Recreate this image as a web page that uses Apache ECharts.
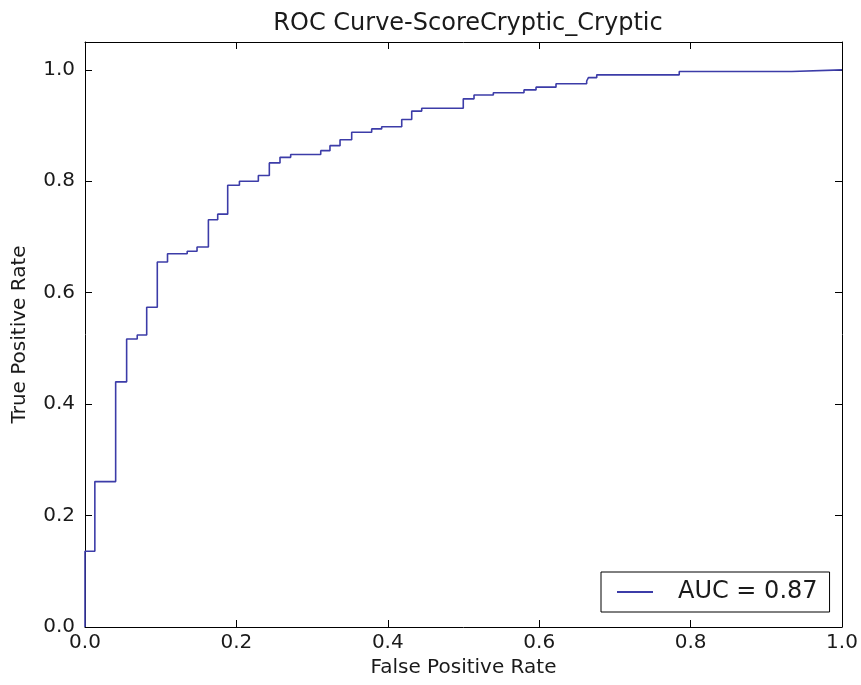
<!DOCTYPE html>
<html>
<head>
<meta charset="utf-8">
<script src="https://cdn.jsdelivr.net/npm/echarts@6/dist/echarts.min.js"></script>
<style>
  html, body { margin: 0; padding: 0; background: #fff; }
  #chart { width: 861px; height: 685px; }
</style>
</head>
<body>
<div id="chart"></div>
<script>
// ROC points (corners at the top of each vertical step)
const fpr = [0, 0, 0.013, 0.0405, 0.055, 0.069, 0.0815, 0.0955, 0.109, 0.135, 0.148, 0.163, 0.1753, 0.1885, 0.204, 0.229, 0.2435, 0.2576, 0.2717, 0.3114, 0.3236, 0.3369, 0.3523, 0.3787, 0.3919, 0.4184, 0.4316, 0.4448, 0.4997, 0.5139, 0.5394, 0.5799, 0.5958, 0.6222, 0.6627, 0.665, 0.676, 0.785, 0.9335, 1.0];
const tpr = [0, 0.136, 0.261, 0.44, 0.517, 0.524, 0.574, 0.655, 0.670, 0.6745, 0.682, 0.731, 0.741, 0.793, 0.80, 0.8105, 0.833, 0.843, 0.848, 0.855, 0.864, 0.8745, 0.888, 0.894, 0.898, 0.911, 0.926, 0.931, 0.948, 0.955, 0.959, 0.964, 0.969, 0.975, 0.980, 0.986, 0.991, 0.997, 1.0, 1.0];
const seriesName = 'AUC = 0.87';
const titleText = 'ROC Curve-ScoreCryptic_Cryptic';
const xName = 'False Positive Rate';
const yName = 'True Positive Rate';
const tickValues = [0, 0.2, 0.4, 0.6, 0.8, 1.0];

const points = fpr.map((x, i) => [x, tpr[i]]);
const FONT = 'DejaVu Sans';
const TXT = '#1a1a1a';

function fmt(v) {
  const ok = tickValues.some(t => Math.abs(t - v) < 1e-9);
  return ok ? v.toFixed(1) : '';
}

const baseAxisLine = { show: true, onZero: false, lineStyle: { color: '#000', width: 1 } };
const baseTick = { show: true, inside: true, length: 7, lineStyle: { color: '#000', width: 1 } };

const chart = echarts.init(document.getElementById('chart'), null, { renderer: 'canvas' });
chart.setOption({
  backgroundColor: '#fff',
  animation: false,
  title: {
    text: titleText,
    left: 463,
    top: 7,
    textAlign: 'center',
    textStyle: { fontFamily: FONT, fontSize: 24, fontWeight: 'normal', color: TXT }
  },
  grid: { left: 85, top: 42, right: 19, bottom: 58, containLabel: false },
  legend: {
    left: 601,
    top: 572,
    data: [seriesName],
    icon: 'rect',
    itemWidth: 36,
    itemHeight: 2,
    padding: [8, 12, 8, 16],
    borderColor: '#000',
    borderWidth: 1,
    borderRadius: 0,
    textStyle: { fontFamily: FONT, fontSize: 24, color: TXT, padding: [0, 0, 0, 20] }
  },
  xAxis: [
    {
      type: 'value', position: 'bottom', min: 0, max: 1, interval: 0.2,
      name: xName, nameLocation: 'middle', nameGap: 28,
      nameTextStyle: { fontFamily: FONT, fontSize: 20, color: TXT },
      axisLine: baseAxisLine, axisTick: baseTick,
      axisLabel: { fontFamily: FONT, fontSize: 20, color: TXT, margin: 6, formatter: fmt },
      splitLine: { show: false }
    },
    {
      type: 'value', position: 'top', min: 0, max: 1, interval: 0.2,
      axisLine: baseAxisLine, axisTick: baseTick,
      axisLabel: { show: false }, splitLine: { show: false }
    }
  ],
  yAxis: [
    {
      type: 'value', position: 'left', min: 0, max: 1.05, interval: 0.2,
      name: yName, nameLocation: 'middle', nameGap: 55,
      nameTextStyle: { fontFamily: FONT, fontSize: 20, color: TXT },
      axisLine: baseAxisLine, axisTick: baseTick,
      axisLabel: { fontFamily: FONT, fontSize: 20, color: TXT, margin: 10, formatter: fmt, showMaxLabel: false },
      splitLine: { show: false }
    },
    {
      type: 'value', position: 'right', min: 0, max: 1.05, interval: 0.2,
      axisLine: baseAxisLine, axisTick: baseTick,
      axisLabel: { show: false }, splitLine: { show: false }
    }
  ],
  series: [
    {
      name: seriesName,
      type: 'line',
      xAxisIndex: 0, yAxisIndex: 0,
      step: 'end',
      symbol: 'none',
      data: points,
      lineStyle: { color: '#3c3ca8', width: 1.6 },
      itemStyle: { color: '#3c3ca8' }
    }
  ]
});
</script>
</body>
</html>
